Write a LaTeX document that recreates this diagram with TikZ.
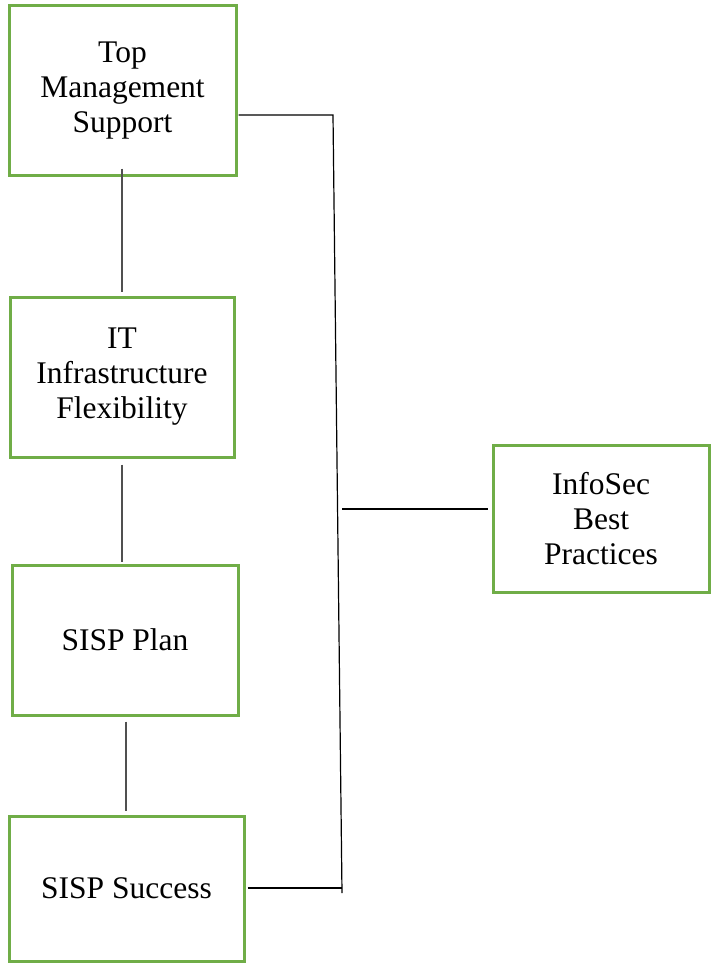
\documentclass[tikz,border=0pt]{standalone}
\usepackage{fontspec}
\setmainfont{Liberation Serif}
\definecolor{boxgreen}{RGB}{112,173,71}
\definecolor{linkgray}{RGB}{80,80,80}
\begin{document}
\begin{tikzpicture}[x=1pt,y=-1pt,
  factor/.style={rectangle, draw=boxgreen, line width=3pt, fill=white,
    inner sep=0pt, align=center, font=\fontsize{31.5}{35}\selectfont},
  chainlink/.style={draw=linkgray, line width=1.5pt},
  bracket/.style={draw=black, line width=1.2pt}]
\useasboundingbox (0,0) rectangle (711,963);

% factor boxes
\node[factor, minimum width=227pt, minimum height=169pt] (top)  at (122.5,90.5) {Top\\Management\\Support};
\node[factor, minimum width=224pt, minimum height=160pt] (it)   at (122,377)    {IT\\Infrastructure\\Flexibility};
\node[factor, minimum width=226pt, minimum height=150pt] (plan) at (125,640)    {SISP Plan};
\node[factor, minimum width=235pt, minimum height=145pt] (succ) at (126.5,888.5) {SISP Success};
\node[factor, minimum width=216pt, minimum height=147pt] (info) at (601,518.5)  {InfoSec\\Best\\Practices};

% links along the left column
\coordinate (l1) at (122,0);
\coordinate (l3) at (126,0);
\draw[chainlink] ([yshift=8pt]top.south -| l1) -- ([yshift=4pt]it.north -| l1);
\draw[chainlink] ([yshift=-6pt]it.south -| l1) -- ([yshift=2pt]plan.north -| l1);
\draw[chainlink] ([yshift=-5pt]plan.south -| l3) -- ([yshift=4pt]succ.north -| l3);

% bracket joining top and bottom boxes, with a branch to the right box
\coordinate (bt) at (333,115);
\coordinate (bb) at (342,893);
\coordinate (bs) at (342,888);
\coordinate (bm) at (342,509);
\draw[bracket] ([xshift=1pt]top.east |- bt) -- (bt) -- (bb);
\draw[bracket] ([xshift=2pt]succ.east |- bs) -- (bs);
\draw[bracket] (bm) -- ([xshift=-4pt]info.west |- bm);
\end{tikzpicture}
\end{document}
